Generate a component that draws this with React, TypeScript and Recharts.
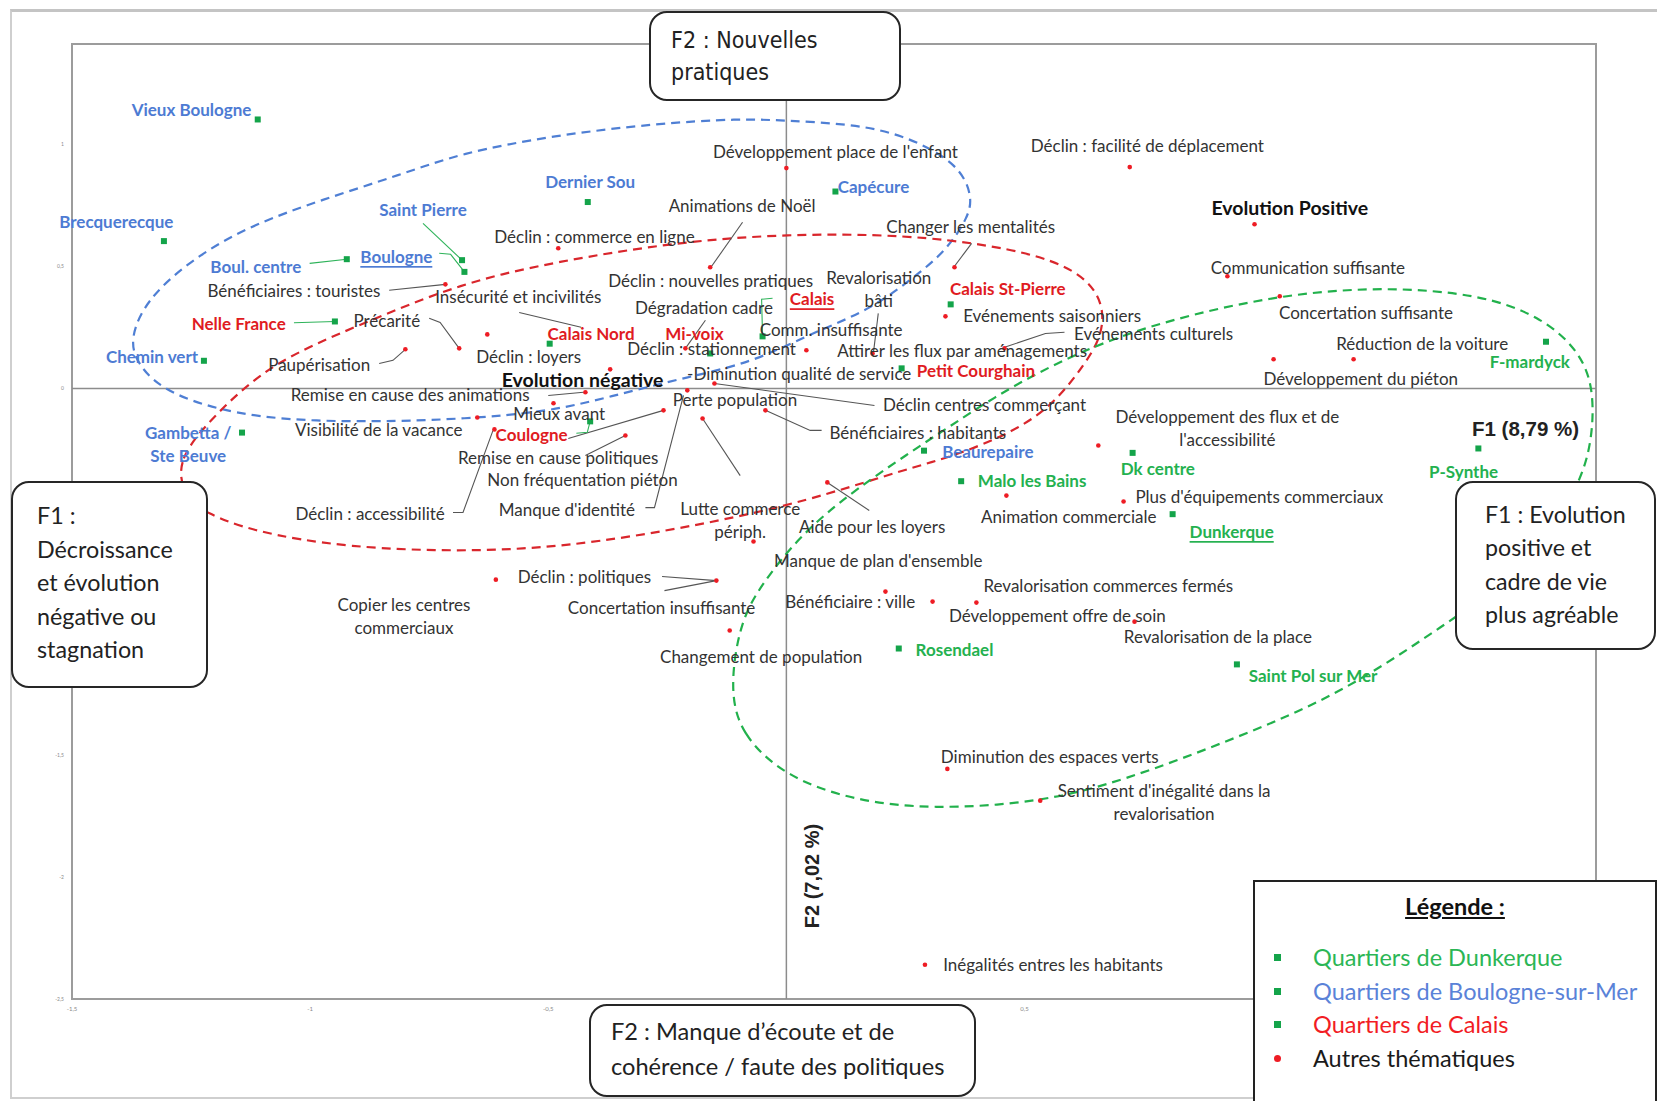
import React from "react";
import {
  ComposedChart,
  XAxis,
  YAxis,
  Line,
  Scatter,
  ReferenceLine,
  ReferenceArea,
} from "recharts";

// Quartiers (carrés verts) : coordonnées F1 / F2
const quartierNames = [
  "Vieux Boulogne", "Brecquerecque", "Dernier Sou", "Capécure", "Saint Pierre",
  "Boulogne", "Boul. centre", "Chemin vert", "Gambetta /\nSte Beuve", "Beaurepaire",
  "Nelle France", "Calais Nord", "Mi-voix", "Calais", "Calais St-Pierre",
  "Petit Courghain", "Coulogne", "F-mardyck", "P-Synthe", "Dk centre",
  "Malo les Bains", "Dunkerque", "Rosendael", "Saint Pol sur Mer",
];
const quartierCity = [
  "B", "B", "B", "B", "B", "B", "B", "B", "B", "B",
  "C", "C", "C", "C", "C", "C", "C",
  "D", "D", "D", "D", "D", "D", "D",
];
const quartierF1 = [
  -1.11, -1.307, -0.417, 0.103, -0.681, -0.676, -0.923, -1.223, -1.143, 0.289,
  -0.948, -0.497, -0.16, -0.05, 0.345, 0.242, -0.412,
  1.595, 1.453, 0.727, 0.367, 0.811, 0.236, 0.946,
];
const quartierF2 = [
  1.101, 0.603, 0.763, 0.806, 0.525, 0.477, 0.529, 0.113, -0.181, -0.255,
  0.274, 0.183, 0.143, 0.213, 0.344, 0.082, -0.135,
  0.191, -0.246, -0.264, -0.38, -0.515, -1.065, -1.13,
];
// où se trouve l'étiquette de chaque quartier (même repère F1 / F2)
const quartierLabelF1 = [
  -1.249, -1.407, -0.412, 0.183, -0.763, -0.819, -1.114, -1.332, -1.256, 0.423,
  -1.15, -0.41, -0.193, 0.054, 0.465, 0.398, -0.535,
  1.561, 1.422, 0.78, 0.516, 0.935, 0.353, 1.106,
];
const quartierLabelF2 = [
  1.144, 0.685, 0.849, 0.828, 0.733, 0.542, 0.503, 0.131, -0.177, -0.255,
  0.269, 0.226, 0.226, 0.369, 0.412, 0.074, -0.186,
  0.113, -0.337, -0.328, -0.376, -0.584, -1.069, -1.173,
];

// Autres thématiques (points rouges)
const themeNames = [
  "Développement place de l'enfant", "Déclin : facilité de déplacement", "Evolution Positive",
  "Communication suffisante", "Concertation suffisante", "Réduction de la voiture",
  "Développement du piéton", "Evénements saisonniers", "Evénements culturels",
  "Changer les mentalités", "Revalorisation\nbâti", "Attirer les flux par aménagements",
  "Comm. insuffisante", "Déclin : nouvelles pratiques", "Animations de Noël",
  "Déclin : commerce en ligne", "Dégradation cadre", "Déclin : stationnement",
  "Insécurité et incivilités", "Bénéficiaires : touristes", "Précarité",
  "Paupérisation", "Déclin : loyers", "Evolution négative",
  "-Diminution qualité de service", "Déclin centres commerçant", "Perte population",
  "Bénéficiaires : habitants", "Remise en cause des animations", "Mieux avant",
  "Visibilité de la vacance", "Remise en cause politiques", "Non fréquentation piéton",
  "Manque d'identité", "Déclin : accessibilité", "Lutte commerce\npériph.",
  "Aide pour les loyers", "Manque de plan d'ensemble", "Animation commerciale",
  "Développement des flux et de\nl'accessibilité", "Plus d'équipements commerciaux",
  "Revalorisation commerces fermés", "Bénéficiaire : ville", "Développement offre de soin",
  "Revalorisation de la place", "Copier les centres\ncommerciaux", "Déclin : politiques",
  "Concertation insuffisante", "Changement de population", "Diminution des espaces verts",
  "Sentiment d'inégalité dans la\nrevalorisation", "Inégalités entres les habitants",
];
const themeF1: (number | null)[] = [
  0.0, 0.721, 0.983, 0.926, 1.036, 1.191, 1.023, 0.334, 0.458,
  0.353, null, 0.181, 0.042, -0.16, null, -0.479, -0.212, null,
  null, -0.716, -0.687, -0.8, -0.628, -0.37, null, -0.151, -0.176,
  -0.044, -0.422, -0.489, -0.649, -0.338, -0.258, -0.208, -0.613, -0.069,
  0.086, 0.208, 0.462, 0.655, 0.708, 0.399, 0.307, 0.731,
  null, -0.61, -0.147, null, -0.119, 0.338, 0.533, 0.291,
];
const themeF2: (number | null)[] = [
  0.902, 0.906, 0.672, 0.459, 0.377, 0.119, 0.119, 0.295, 0.164,
  0.496, null, 0.143, 0.156, 0.496, null, 0.574, 0.164, null,
  null, 0.426, 0.164, 0.16, 0.221, 0.078, null, 0.02, -0.123,
  -0.09, -0.016, -0.061, -0.119, -0.193, -0.09, -0.008, -0.168, -0.627,
  -0.385, -0.832, -0.439, -0.234, -0.463, -0.877, -0.873, -0.955,
  null, -0.783, -0.787, null, -0.991, -1.558, -1.688, -2.36,
];
const themeLabelF1 = [
  0.103, 0.758, 1.057, 1.095, 1.217, 1.335, 1.206, 0.558, 0.771,
  0.387, 0.194, 0.369, 0.094, -0.159, -0.093, -0.403, -0.173, -0.157,
  -0.563, -1.034, -0.839, -0.981, -0.541, -0.428, 0.027, 0.416, -0.108,
  0.276, -0.79, -0.477, -0.856, -0.479, -0.428, -0.461, -0.874, -0.097,
  0.18, 0.193, 0.593, 0.926, 0.993, 0.676, 0.134, 0.569,
  0.906, -0.803, -0.424, -0.262, -0.053, 0.553, 0.793, 0.56,
];
const themeLabelF2 = [
  0.971, 0.997, 0.741, 0.499, 0.313, 0.187, 0.044, 0.299, 0.226,
  0.663, 0.455, 0.157, 0.243, 0.442, 0.75, 0.624, 0.334, 0.165,
  0.377, 0.403, 0.282, 0.1, 0.131, 0.04, 0.061, -0.064, -0.043,
  -0.177, -0.025, -0.099, -0.168, -0.281, -0.372, -0.493, -0.51, -0.489,
  -0.562, -0.701, -0.523, -0.112, -0.441, -0.805, -0.87, -0.926,
  -1.013, -0.883, -0.77, -0.896, -1.095, -1.506, -1.645, -2.355,
];

// Contours des groupes (tirets)
const blueGroup: [number, number][] = [
  [-1.38, 0.204], [-1.34, 0.377], [-1.232, 0.551], [-1.118, 0.672], [-0.976, 0.772],
  [-0.808, 0.876], [-0.686, 0.962], [-0.488, 1.036], [-0.275, 1.084], [-0.097, 1.105],
  [0.0, 1.096], [0.125, 1.084], [0.24, 1.045], [0.362, 0.923], [0.391, 0.785],
  [0.382, 0.702], [0.34, 0.577], [0.289, 0.486], [0.178, 0.321], [0.052, 0.226],
  [-0.071, 0.105], [-0.222, 0.04], [-0.37, -0.034], [-0.497, -0.095], [-0.674, -0.125],
  [-0.863, -0.138], [-1.112, -0.129], [-1.298, -0.03], [-1.363, 0.096],
];
const redGroup: [number, number][] = [
  [-1.263, -0.446], [-1.283, -0.294], [-1.196, -0.099], [-1.081, 0.105], [-0.901, 0.256],
  [-0.681, 0.434], [-0.479, 0.52], [-0.235, 0.598], [0.0, 0.633], [0.251, 0.629],
  [0.436, 0.585], [0.564, 0.525], [0.636, 0.442], [0.667, 0.334], [0.662, 0.213],
  [0.627, 0.1], [0.564, -0.06], [0.48, -0.177], [0.347, -0.281], [0.24, -0.337],
  [0.089, -0.433], [-0.097, -0.528], [-0.401, -0.636], [-0.643, -0.671], [-0.925, -0.653],
  [-1.125, -0.584], [-1.218, -0.511],
];
const greenGroup: [number, number][] = [
  [-0.119, -1.225], [-0.097, -1.416], [0.0, -1.593], [0.145, -1.689], [0.305, -1.723],
  [0.529, -1.697], [0.709, -1.606], [0.948, -1.429], [1.164, -1.251], [1.375, -0.978],
  [1.577, -0.705], [1.661, -0.406], [1.69, -0.242], [1.697, -0.021], [1.67, 0.144],
  [1.588, 0.291], [1.457, 0.386], [1.253, 0.416], [1.051, 0.386], [0.849, 0.304],
  [0.667, 0.196], [0.482, 0.022], [0.34, -0.159], [0.138, -0.419], [0.025, -0.61],
  [-0.051, -0.8], [-0.097, -0.952],
];

// Traits de rappel entre étiquettes et points
const greyLeaders: [number, number][][] = [
  [[-0.092, 0.68], [-0.157, 0.5]],
  [[0.389, 0.594], [0.353, 0.5]],
  [[0.193, 0.307], [0.183, 0.15]],
  [[0.584, 0.23], [0.544, 0.225], [0.458, 0.168]],
  [[-0.17, 0.279], [-0.212, 0.164]],
  [[-0.561, 0.311], [-0.431, 0.25]],
  [[-0.834, 0.402], [-0.716, 0.426]],
  [[-0.75, 0.287], [-0.727, 0.27], [-0.687, 0.164]],
  [[-0.855, 0.102], [-0.826, 0.115], [-0.8, 0.16]],
  [[-0.5, -0.029], [-0.426, -0.016]],
  [[0.185, -0.07], [-0.151, 0.02]],
  [[0.074, -0.172], [0.05, -0.172], [-0.044, -0.09]],
  [[-0.458, -0.205], [-0.258, -0.09]],
  [[-0.422, -0.275], [-0.338, -0.193]],
  [[-0.296, -0.488], [-0.277, -0.488], [-0.216, -0.029]],
  [[-0.7, -0.508], [-0.679, -0.508], [-0.616, -0.172]],
  [[-0.097, -0.357], [-0.176, -0.123]],
  [[0.174, -0.5], [0.086, -0.385]],
  [[-0.261, -0.77], [-0.147, -0.787]],
  [[-0.256, -0.828], [-0.147, -0.787]],
];
const greenLeaders: [number, number][][] = [
  [[-1.001, 0.512], [-0.923, 0.529]],
  [[-1.034, 0.269], [-0.948, 0.274]],
  [[-0.763, 0.676], [-0.681, 0.525]],
  [[-0.729, 0.553], [-0.705, 0.549], [-0.676, 0.477]],
  [[-0.029, 0.369], [-0.052, 0.365], [-0.05, 0.213]],
  [[-0.441, -0.184], [-0.418, -0.18], [-0.412, -0.135]],
];

// graduations visibles (les autres sont sous les encadrés)
const xTicks = [-1.5, -1, -0.5, 0.5];
const yTicks = [-2.5, -2, -1.5, 0, 0.5, 1];

const legendLabels = [
  "Quartiers de Dunkerque",
  "Quartiers de Boulogne-sur-Mer",
  "Quartiers de Calais",
  "Autres thématiques",
];
const legendGroups = ["D", "B", "C", "theme"];

const cityNames = new Set(["Boulogne", "Calais", "Dunkerque"]);
const poles = new Set(["Evolution Positive", "Evolution négative"]);

const FONT = "Lato, 'Open Sans', sans-serif";
const GREEN_MARK = "#14a44a";
const RED_MARK = "#ee1c24";

const LABEL_STYLE: Record<string, { color: string; size: number; weight: number }> = {
  B: { color: "#4d7bd3", size: 17, weight: 700 },
  C: { color: "#e01b22", size: 17, weight: 700 },
  D: { color: "#24b14f", size: 17, weight: 700 },
  theme: { color: "#333333", size: 17, weight: 400 },
  pole: { color: "#111111", size: 19.5, weight: 700 },
};
const LEGEND_COLOR: Record<string, string> = {
  D: "#2bb655",
  B: "#5a82d8",
  C: "#f21c24",
  theme: "#1a1a1a",
};

const quartiers = quartierNames.map((name, i) => ({
  name,
  x: quartierF1[i],
  y: quartierF2[i],
}));
const quartierLabels = quartierNames.map((name, i) => ({
  text: name,
  group: quartierCity[i],
  underline: cityNames.has(name),
  x: quartierLabelF1[i],
  y: quartierLabelF2[i],
}));
const themeDots = themeNames
  .map((name, i) => ({ name, x: themeF1[i], y: themeF2[i] }))
  .filter((d) => d.x !== null && d.y !== null);
const themeLabels = themeNames.map((name, i) => ({
  text: name,
  group: poles.has(name) ? "pole" : "theme",
  underline: false,
  x: themeLabelF1[i],
  y: themeLabelF2[i],
}));

const toPts = (pts: [number, number][]) => pts.map(([x, y]) => ({ x, y }));
const fmt = (v: number) => String(v).replace(".", ",");

function LabelShape(props: any) {
  const { cx, cy, payload } = props;
  const st = LABEL_STYLE[payload.group];
  const lines: string[] = payload.text.split("\n");
  return (
    <text
      x={cx}
      y={cy}
      textAnchor="middle"
      dominantBaseline="central"
      fill={st.color}
      fontSize={st.size}
      fontWeight={st.weight}
      fontFamily={FONT}
      textDecoration={payload.underline ? "underline" : undefined}
    >
      {lines.map((l, i) => (
        <tspan key={i} x={cx} dy={i === 0 ? 0 : 23}>
          {l}
        </tspan>
      ))}
    </text>
  );
}

const boxStyle: React.CSSProperties = {
  position: "absolute",
  boxSizing: "border-box",
  background: "#fff",
  border: "2px solid #262626",
  borderRadius: 18,
  color: "#222",
  fontFamily: FONT,
};

export default function App() {
  return (
    <div
      style={{
        position: "absolute",
        left: 0,
        top: 0,
        width: 1657,
        height: 1101,
        background: "#fff",
        overflow: "hidden",
        fontFamily: FONT,
      }}
    >
      {/* cadre de la page */}
      <div
        style={{
          position: "absolute",
          left: 10,
          top: 9,
          width: 1647,
          height: 1090,
          boxSizing: "border-box",
          borderTop: "3px solid #c4c4c4",
          borderLeft: "2px solid #cfcfcf",
          borderBottom: "2px solid #cfcfcf",
        }}
      />
      <div style={{ position: "absolute", left: 0, top: 0 }}>
        <ComposedChart
          width={1657}
          height={1101}
          margin={{ top: 44, right: 61, bottom: 82, left: 52 }}
        >
          <XAxis
            type="number"
            dataKey="x"
            domain={[-1.5, 1.7]}
            ticks={xTicks}
            tickFormatter={fmt}
            height={20}
            axisLine={false}
            tickLine={false}
            tick={{ fontSize: 6, fill: "#8a8a8a" }}
          />
          <YAxis
            type="number"
            dataKey="y"
            domain={[-2.5, 1.41]}
            ticks={yTicks}
            tickFormatter={fmt}
            width={20}
            axisLine={false}
            tickLine={false}
            tick={{ fontSize: 5, fill: "#8a8a8a" }}
          />
          <ReferenceArea
            x1={-1.5}
            x2={1.7}
            y1={-2.5}
            y2={1.41}
            fill="none"
            stroke="#9c9c9c"
            strokeWidth={2}
          />
          <ReferenceLine x={0} stroke="#8c8c8c" strokeWidth={1.5} />
          <ReferenceLine y={0} stroke="#8c8c8c" strokeWidth={1.5} />

          <Line
            data={toPts(blueGroup)}
            dataKey="y"
            type="basisClosed"
            stroke="#4f7fd4"
            strokeWidth={2.2}
            strokeDasharray="9 6"
            dot={false}
            activeDot={false}
            isAnimationActive={false}
          />
          <Line
            data={toPts(redGroup)}
            dataKey="y"
            type="basisClosed"
            stroke="#d9262c"
            strokeWidth={2.2}
            strokeDasharray="9 6"
            dot={false}
            activeDot={false}
            isAnimationActive={false}
          />
          <Line
            data={toPts(greenGroup)}
            dataKey="y"
            type="basisClosed"
            stroke="#22b14c"
            strokeWidth={2.2}
            strokeDasharray="9 6"
            dot={false}
            activeDot={false}
            isAnimationActive={false}
          />

          {greyLeaders.map((pts, i) => (
            <Line
              key={"g" + i}
              data={toPts(pts)}
              dataKey="y"
              type="linear"
              stroke="#555"
              strokeWidth={1.1}
              dot={false}
              activeDot={false}
              isAnimationActive={false}
            />
          ))}
          {greenLeaders.map((pts, i) => (
            <Line
              key={"v" + i}
              data={toPts(pts)}
              dataKey="y"
              type="linear"
              stroke="#2eb35a"
              strokeWidth={1.1}
              dot={false}
              activeDot={false}
              isAnimationActive={false}
            />
          ))}

          <Scatter
            data={themeDots}
            dataKey="y"
            isAnimationActive={false}
            shape={(p: any) => <circle cx={p.cx} cy={p.cy} r={2.3} fill={RED_MARK} />}
          />
          <Scatter
            data={quartiers}
            dataKey="y"
            isAnimationActive={false}
            shape={(p: any) => (
              <rect x={p.cx - 3} y={p.cy - 3} width={6} height={6} fill={GREEN_MARK} />
            )}
          />
          <Scatter
            data={themeLabels}
            dataKey="y"
            isAnimationActive={false}
            shape={(p: any) => <LabelShape {...p} />}
          />
          <Scatter
            data={quartierLabels}
            dataKey="y"
            isAnimationActive={false}
            shape={(p: any) => <LabelShape {...p} />}
          />
        </ComposedChart>
      </div>

      {/* titres des axes */}
      <div
        style={{
          position: "absolute",
          left: 1472,
          top: 417,
          fontFamily: "'Liberation Sans', Arial, sans-serif",
          fontWeight: 700,
          fontSize: 20.5,
          color: "#222",
          whiteSpace: "nowrap",
        }}
      >
        F1 (8,79 %)
      </div>
      <div
        style={{
          position: "absolute",
          left: 812,
          top: 876,
          transform: "translate(-50%, -50%) rotate(-90deg)",
          fontFamily: "'Liberation Sans', Arial, sans-serif",
          fontWeight: 700,
          fontSize: 20,
          color: "#222",
          whiteSpace: "nowrap",
        }}
      >
        F2 (7,02 %)
      </div>

      {/* encadrés d'interprétation */}
      <div
        style={{
          ...boxStyle,
          left: 649,
          top: 11,
          width: 252,
          height: 90,
          padding: "11px 0 0 20px",
          fontFamily: "'Liberation Sans Narrow', 'DejaVu Sans Condensed', sans-serif",
          fontSize: 23,
          lineHeight: "32px",
        }}
      >
        F2 : Nouvelles
        <br />
        pratiques
      </div>
      <div
        style={{
          ...boxStyle,
          left: 11,
          top: 481,
          width: 197,
          height: 207,
          padding: "16px 0 0 24px",
          fontSize: 23.3,
          lineHeight: "33.5px",
        }}
      >
        F1 :<br />
        Décroissance
        <br />
        et évolution
        <br />
        négative ou
        <br />
        stagnation
      </div>
      <div
        style={{
          ...boxStyle,
          left: 1455,
          top: 481,
          width: 201,
          height: 169,
          padding: "15px 0 0 28px",
          fontSize: 23.2,
          lineHeight: "33.3px",
        }}
      >
        F1 : Evolution
        <br />
        positive et
        <br />
        cadre de vie
        <br />
        plus agréable
      </div>
      <div
        style={{
          ...boxStyle,
          left: 589,
          top: 1004,
          width: 387,
          height: 93,
          padding: "8px 0 0 20px",
          fontSize: 23.6,
          lineHeight: "35px",
        }}
      >
        F2 : Manque d’écoute et de
        <br />
        cohérence / faute des politiques
      </div>

      {/* légende */}
      <div
        style={{
          position: "absolute",
          left: 1253,
          top: 880,
          width: 404,
          height: 230,
          boxSizing: "border-box",
          background: "#fff",
          border: "2px solid #222",
          fontFamily: FONT,
        }}
      >
        <div
          style={{
            position: "absolute",
            left: 0,
            right: 0,
            top: 10,
            textAlign: "center",
            fontWeight: 700,
            fontSize: 23.5,
            textDecoration: "underline",
            color: "#111",
          }}
        >
          Légende :
        </div>
        {legendLabels.map((lab, i) => (
          <div
            key={lab}
            style={{
              position: "absolute",
              left: 0,
              top: 64 + i * 33.7,
              height: 24,
              width: 400,
            }}
          >
            <span
              style={{
                position: "absolute",
                left: 19,
                top: 8,
                width: 7,
                height: 7,
                borderRadius: legendGroups[i] === "theme" ? "50%" : 0,
                background: legendGroups[i] === "theme" ? RED_MARK : GREEN_MARK,
              }}
            />
            <span
              style={{
                position: "absolute",
                left: 58,
                top: -3,
                fontSize: 23.5,
                color: LEGEND_COLOR[legendGroups[i]],
                whiteSpace: "nowrap",
              }}
            >
              {lab}
            </span>
          </div>
        ))}
      </div>
    </div>
  );
}
